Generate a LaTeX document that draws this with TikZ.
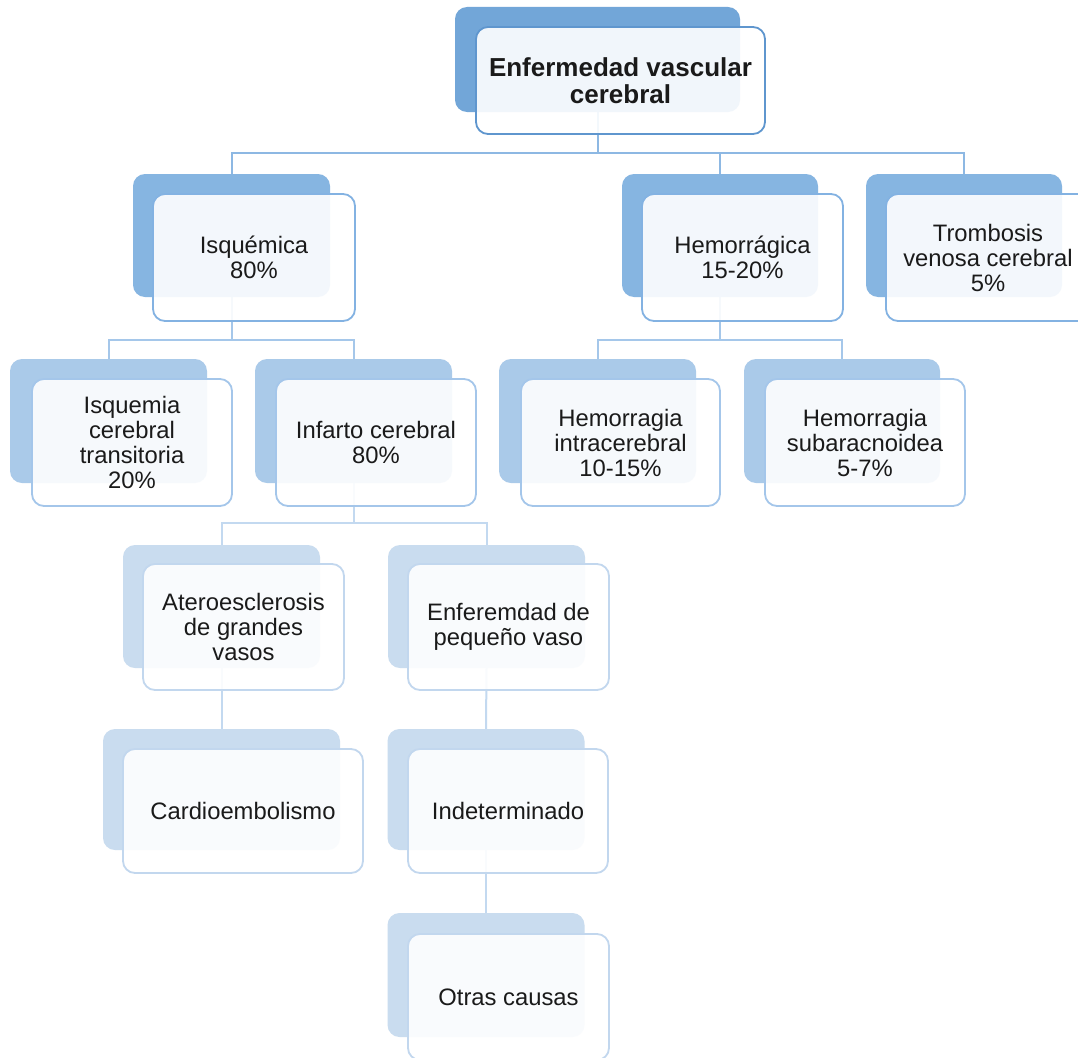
\documentclass[tikz,border=0pt]{standalone}
\usepackage{fontspec}
\setmainfont{Liberation Sans}
\pgfdeclarelayer{bottom}
\pgfdeclarelayer{background}
\pgfsetlayers{bottom,background,main}
\definecolor{bkA}{HTML}{72A6D8}
\definecolor{bkB}{HTML}{86B5E1}
\definecolor{bkC}{HTML}{AACAE9}
\definecolor{bkD}{HTML}{C9DCEF}
\definecolor{brA}{HTML}{5F96CE}
\definecolor{brB}{HTML}{83B2E2}
\definecolor{brC}{HTML}{A4C6EA}
\definecolor{brD}{HTML}{C2D7EE}
\definecolor{cnA}{HTML}{8DB8E3}
\definecolor{cnB}{HTML}{A5C7EA}
\definecolor{cnC}{HTML}{C3D9F0}
\definecolor{txt}{HTML}{1A1A1A}
\tikzset{
  backbox/.style={rectangle, rounded corners=12pt, inner sep=0pt, fill=#1, draw=none},
  frontbox/.style={rectangle, rounded corners=12pt, inner sep=2pt, fill=white, fill opacity=0.9, text opacity=1, draw=#1, line width=1.8pt, align=center, text=txt, font=\fontsize{23.8}{25}\selectfont},
  conn/.style={draw=#1, line width=2pt},
}
\begin{document}
\begin{tikzpicture}[x=1pt, y=-1pt]
\clip (0,0) rectangle (1078,1057);
\begin{pgfonlayer}{bottom}
\fill[white] (0,0) rectangle (1078,1057);
\end{pgfonlayer}
% root
\node[backbox=bkA, minimum width=285pt, minimum height=105pt] (rootB) at (597.5,59.5) {};
\node[frontbox=brA, minimum width=289pt, minimum height=107pt, font=\fontsize{26}{27}\selectfont\bfseries] (root) at (620.5,80.5) {Enfermedad vascular\\cerebral};
% level 1
\node[backbox=bkB, minimum width=197pt, minimum height=123pt] (isqB) at (231.5,235.5) {};
\node[frontbox=brB, minimum width=202pt, minimum height=127pt] (isq) at (254,257.5) {Isquémica\\80\%};
\node[backbox=bkB, minimum width=196pt, minimum height=123pt] (hemB) at (720,235.5) {};
\node[frontbox=brB, minimum width=201pt, minimum height=127pt] (hem) at (742.5,257.5) {Hemorrágica\\15-20\%};
\node[backbox=bkB, minimum width=196pt, minimum height=123pt] (troB) at (964,235.5) {};
\node[frontbox=brB, minimum width=204pt, minimum height=127pt] (tro) at (988,257.5) {Trombosis\\venosa cerebral\\5\%};
% level 2
\node[backbox=bkC, minimum width=197pt, minimum height=124pt] (ictB) at (108.5,421) {};
\node[frontbox=brC, minimum width=200pt, minimum height=127pt] (ict) at (132,442.5) {Isquemia\\cerebral\\transitoria\\20\%};
\node[backbox=bkC, minimum width=197pt, minimum height=124pt] (infB) at (353.5,421) {};
\node[frontbox=brC, minimum width=200pt, minimum height=127pt] (inf) at (376,442.5) {Infarto cerebral\\80\%};
\node[backbox=bkC, minimum width=197pt, minimum height=124pt] (hicB) at (597.5,421) {};
\node[frontbox=brC, minimum width=199pt, minimum height=127pt] (hic) at (620.5,442.5) {Hemorragia\\intracerebral\\10-15\%};
\node[backbox=bkC, minimum width=196pt, minimum height=124pt] (hsaB) at (842,421) {};
\node[frontbox=brC, minimum width=200pt, minimum height=127pt] (hsa) at (865,442.5) {Hemorragia\\subaracnoidea\\5-7\%};
% level 3
\node[backbox=bkD, minimum width=197pt, minimum height=123pt] (ateB) at (221.5,606.5) {};
\node[frontbox=brD, minimum width=201pt, minimum height=126pt] (ate) at (243.5,627) {Ateroesclerosis\\de grandes\\vasos};
\node[backbox=bkD, minimum width=197pt, minimum height=123pt] (pvB) at (486.5,606.5) {};
\node[frontbox=brD, minimum width=201pt, minimum height=126pt] (pv) at (508.5,627) {Enferemdad de\\pequeño vaso};
\node[backbox=bkD, minimum width=237pt, minimum height=121pt] (carB) at (221.5,789.5) {};
\node[frontbox=brD, minimum width=240pt, minimum height=124pt] (car) at (243,811) {Cardioembolismo};
\node[backbox=bkD, minimum width=197pt, minimum height=121pt] (indB) at (486,789.5) {};
\node[frontbox=brD, minimum width=200pt, minimum height=124pt] (ind) at (508,811) {Indeterminado};
\node[backbox=bkD, minimum width=197pt, minimum height=124pt] (otrB) at (486,975) {};
\node[frontbox=brD, minimum width=201pt, minimum height=126pt] (otr) at (508.5,997) {Otras causas};
% connectors
\coordinate (busA) at (0,153);
\coordinate (busB) at (0,340);
\coordinate (busC) at (0,523);
\begin{pgfonlayer}{background}
\draw[conn=cnA] (rootB.south) -- (rootB.south |- busA) -| (isqB.north);
\draw[conn=cnA] (rootB.south |- busA) -| (hemB.north);
\draw[conn=cnA] (rootB.south |- busA) -| (troB.north);
\draw[conn=cnB] (isqB.south) -- (isqB.south |- busB) -| (ictB.north);
\draw[conn=cnB] (isqB.south |- busB) -| (infB.north);
\draw[conn=cnB] (hemB.south) -- (hemB.south |- busB) -| (hicB.north);
\draw[conn=cnB] (hemB.south |- busB) -| (hsaB.north);
\draw[conn=cnC] (infB.south) -- (infB.south |- busC) -| (ateB.north);
\draw[conn=cnC] (infB.south |- busC) -| (pvB.north);
\draw[conn=cnC] (ateB.south) -- (carB.north);
\draw[conn=cnC] (pvB.south) -- (indB.north);
\draw[conn=cnC] (indB.south) -- (otrB.north);
\end{pgfonlayer}
\end{tikzpicture}
\end{document}
